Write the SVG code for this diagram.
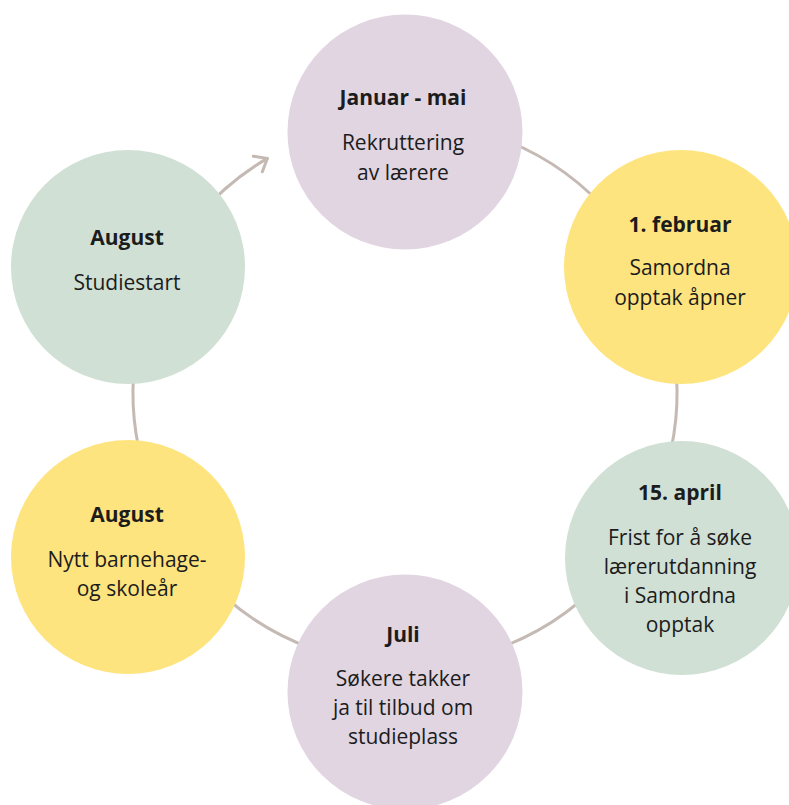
<svg xmlns="http://www.w3.org/2000/svg" width="789" height="805" viewBox="0 0 789 805">
<style>
.c{stroke:none}
.purple{fill:#e0d5e1}
.yellow{fill:#fee47e}
.green{fill:#d0e0d5}
.conn{fill:none;stroke:#c5b9b3;stroke-width:3;stroke-linecap:round}
text{font-family:"Open Sans","Liberation Sans",sans-serif;font-size:21px;fill:#1c1c1c;text-anchor:middle}
.t{font-weight:bold}
</style>
<defs>
<marker id="arr" viewBox="-14 -12 16 24" markerWidth="16" markerHeight="24" refX="0" refY="0" orient="auto" markerUnits="userSpaceOnUse">
<path d="M-11,-9 L0,0 L-11,9" fill="none" stroke="#c5b9b3" stroke-width="3" stroke-linecap="round" stroke-linejoin="round"/>
</marker>
</defs>
<rect width="789" height="805" fill="#ffffff"/>
<g id="connectors">
<path class="conn" d="M498,137.4 A272,272 0 0 1 613.4,218.2"/>
<path class="conn" d="M672.9,345.8 A272,272 0 0 1 667.7,463.4"/>
<path class="conn" d="M613.4,567.8 A272,272 0 0 1 498,648.6"/>
<path class="conn" d="M312,648.6 A272,272 0 0 1 196.6,567.8"/>
<path class="conn" d="M142.3,463.4 A272,272 0 0 1 137.1,345.8"/>
<path class="conn" d="M196.6,218.2 A272,272 0 0 1 267.3,158.4" marker-end="url(#arr)"/>
</g>
<g id="node-januar">
<circle class="c purple" cx="405" cy="132" r="117.5"/>
<text class="t" x="403" y="105">Januar - mai</text>
<text x="403" y="150">Rekruttering</text>
<text x="403" y="180">av lærere</text>
</g>
<g id="node-februar">
<circle class="c yellow" cx="681" cy="267" r="117"/>
<text class="t" x="680" y="232">1. februar</text>
<text x="680" y="275">Samordna</text>
<text x="680" y="305">opptak åpner</text>
</g>
<g id="node-april">
<circle class="c green" cx="682" cy="558" r="117"/>
<text class="t" x="680" y="500">15. april</text>
<text x="680" y="545">Frist for å søke</text>
<text x="680" y="574">lærerutdanning</text>
<text x="680" y="603">i Samordna</text>
<text x="680" y="632">opptak</text>
</g>
<g id="node-juli">
<circle class="c purple" cx="405" cy="692" r="117.5"/>
<text class="t" x="403" y="642">Juli</text>
<text x="403" y="686">Søkere takker</text>
<text x="403" y="715">ja til tilbud om</text>
<text x="403" y="744">studieplass</text>
</g>
<g id="node-august-skole">
<circle class="c yellow" cx="128" cy="557" r="117"/>
<text class="t" x="127" y="522">August</text>
<text x="127" y="567">Nytt barnehage-</text>
<text x="127" y="596">og skoleår</text>
</g>
<g id="node-august-studie">
<circle class="c green" cx="128" cy="267" r="117"/>
<text class="t" x="127" y="245">August</text>
<text x="127" y="290">Studiestart</text>
</g>
</svg>
